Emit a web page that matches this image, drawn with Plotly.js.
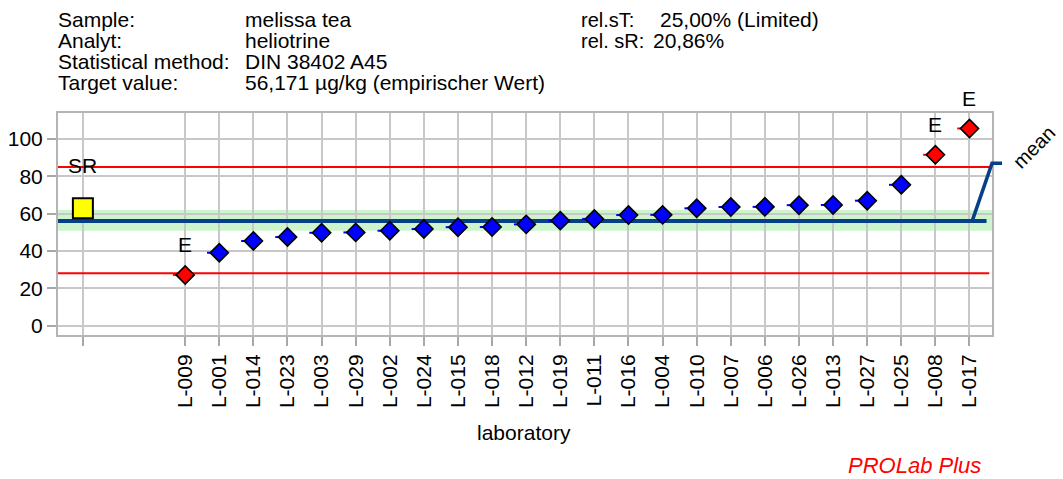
<!DOCTYPE html>
<html><head><meta charset="utf-8">
<script src="https://cdn.plot.ly/plotly-3.0.1.min.js"></script>
<style>html,body{margin:0;padding:0;background:#fff}#chart{width:1063px;height:479px}</style>
</head><body><div id="chart"></div>
<script>
// ---- data ----
const labs = ['L-009','L-001','L-014','L-023','L-003','L-029','L-002','L-024','L-015','L-018','L-012','L-019',
              'L-011','L-016','L-004','L-010','L-007','L-006','L-026','L-013','L-027','L-025','L-008','L-017'];
const values = [27.2, 39.1, 45.4, 47.5, 49.8, 50.0, 50.9, 51.8, 52.8, 52.9, 54.3, 56.3,
                57.2, 59.3, 59.4, 62.9, 63.6, 63.7, 64.6, 64.7, 67.0, 75.5, 91.6, 105.7];
const flags = ['E','','','','','','','','','','','',
               '','','','','','','','','','','E','E'];
const srLabel = 'SR';
const srValue = 62.9;
const targetValue = 56.171;
const upperLimit = 85.0;
const lowerLimit = 28.1;
const bandLow = 50.9;
const bandHigh = 62.0;
const meanLabelLevel = 87.0;
const yTicks = [0, 20, 40, 60, 80, 100];
const headerLabels = ['Sample:', 'Analyt:', 'Statistical method:', 'Target value:'];
const headerValues = ['melissa tea', 'heliotrine', 'DIN 38402 A45', '56,171 µg/kg (empirischer Wert)'];
const statLabels = ['rel.sT:', 'rel. sR:'];
const statValues = ['25,00% (Limited)', '20,86%'];

// ---- layout geometry ----
const W = 1063, H = 479, ML = 58, MR = 71, MT = 113, MB = 144;
const PW = W - ML - MR, PH = H - MT - MB;
const xRange = [-0.73, 26.66], yRange = [-5, 114];
const firstLabPos = 3;
const xs = labs.map((_, i) => firstLabPos + i);
const px = p => (p - ML) / PW;
const py = p => (H - MB - p) / PH;
const FONT = 'Liberation Sans, Arial, sans-serif';
const navy = '#063f86';

const normIdx = flags.map((f, i) => f ? -1 : i).filter(i => i >= 0);
const outIdx = flags.map((f, i) => f ? i : -1).filter(i => i >= 0);

function diamondTrace(idx, color) {
  return {
    type: 'scatter', mode: 'markers',
    x: idx.map(i => xs[i]), y: idx.map(i => values[i]),
    marker: {symbol: 'diamond', size: 14, color: color, line: {color: '#000', width: 1.6}},
    error_x: {type: 'constant', symmetric: false, value: 0, valueminus: 0.36, width: 0, thickness: 2, color: color},
    hoverinfo: 'x+y', showlegend: false, cliponaxis: false
  };
}

const traces = [
  {type: 'scatter', mode: 'markers', x: [0], y: [srValue],
   marker: {symbol: 'square', size: 20, color: '#ffff00', line: {color: '#000', width: 2}},
   showlegend: false, cliponaxis: false},
  diamondTrace(normIdx, '#0000ff'),
  diamondTrace(outIdx, '#ff0000')
];

const rowY = [19.8, 40.8, 61.7, 82.5];
const annotations = [];
headerLabels.forEach((t, i) => {
  annotations.push({text: t, x: px(57), y: py(rowY[i]), xref: 'paper', yref: 'paper', xanchor: 'left', yanchor: 'middle', showarrow: false, borderpad: 0, font: {size: 21, color: '#000'}});
  annotations.push({text: headerValues[i], x: px(244), y: py(rowY[i]), xref: 'paper', yref: 'paper', xanchor: 'left', yanchor: 'middle', showarrow: false, borderpad: 0, font: {size: 21, color: '#000'}});
});
statLabels.forEach((t, i) => {
  annotations.push({text: t, x: px(580), y: py(rowY[i]), xref: 'paper', yref: 'paper', xanchor: 'left', yanchor: 'middle', showarrow: false, borderpad: 0, font: {size: 20, color: '#000'}});
  annotations.push({text: statValues[i], x: px([659, 652][i]), y: py(rowY[i]), xref: 'paper', yref: 'paper', xanchor: 'left', yanchor: 'middle', showarrow: false, borderpad: 0, font: {size: 21, color: '#000'}});
});
outIdx.forEach(i => {
  annotations.push({text: flags[i], x: xs[i], y: values[i], xref: 'x', yref: 'y', yshift: 30, xanchor: 'center', yanchor: 'middle', showarrow: false, font: {size: 21, color: '#000'}});
});
annotations.push({text: srLabel, x: 0, y: srValue, xref: 'x', yref: 'y', yshift: 43, xanchor: 'center', yanchor: 'middle', showarrow: false, font: {size: 21, color: '#000'}});
annotations.push({text: 'laboratory', x: px(524), y: py(432), xref: 'paper', yref: 'paper', xanchor: 'center', yanchor: 'middle', showarrow: false, font: {size: 21, color: '#000'}});
annotations.push({text: '<i>PROLab Plus</i>', x: px(983), y: py(465), xref: 'paper', yref: 'paper', xanchor: 'right', yanchor: 'middle', showarrow: false, font: {size: 22, color: '#ff0000'}});
annotations.push({text: 'mean', x: px(1034), y: py(147), xref: 'paper', yref: 'paper', xanchor: 'center', yanchor: 'middle', textangle: -45, showarrow: false, borderpad: 0, font: {size: 20, color: '#000'}});

const yToPaper = v => (v - yRange[0]) / (yRange[1] - yRange[0]);
const xToPaper = v => (v - xRange[0]) / (xRange[1] - xRange[0]);
const lastPos = xs[xs.length - 1];
const leaderPath = 'M ' + xToPaper(lastPos + 0.08) + ',' + yToPaper(targetValue) +
                   ' L 1,' + yToPaper(meanLabelLevel) +
                   ' L ' + (1 + 10 / PW) + ',' + yToPaper(meanLabelLevel);

const shapes = [
  {type: 'rect', xref: 'x', yref: 'y', x0: xRange[0], x1: xRange[1], y0: bandLow, y1: bandHigh, fillcolor: '#cdf4cd', line: {width: 0}, layer: 'below'},
  {type: 'line', xref: 'x', yref: 'y', x0: xRange[0], x1: xRange[1] - 0.08, y0: upperLimit, y1: upperLimit, line: {color: '#ff0000', width: 2}, layer: 'between'},
  {type: 'line', xref: 'x', yref: 'y', x0: xRange[0], x1: xRange[1] - 0.08, y0: lowerLimit, y1: lowerLimit, line: {color: '#ff0000', width: 2}, layer: 'between'},
  {type: 'line', xref: 'x', yref: 'y', x0: xRange[0], x1: xRange[1] - 0.16, y0: targetValue, y1: targetValue, line: {color: navy, width: 4}, layer: 'between'},
  {type: 'path', xref: 'paper', yref: 'paper', path: leaderPath, line: {color: navy, width: 3.5}, layer: 'above'}
];

const layout = {
  width: W, height: H,
  margin: {l: ML, r: MR, t: MT, b: MB, pad: 0},
  paper_bgcolor: '#fff', plot_bgcolor: '#fff',
  font: {family: FONT, size: 21, color: '#000'},
  showlegend: false,
  xaxis: {
    range: xRange, type: 'linear', fixedrange: true,
    tickmode: 'array', tickvals: [0].concat(xs), ticktext: [''].concat(labs),
    tickangle: -90, tickfont: {size: 21, color: '#000'},
    ticks: 'outside', ticklen: 9, tickwidth: 2, tickcolor: '#a8a8a8',
    showgrid: true, gridcolor: '#c8c8c8', gridwidth: 2,
    showline: true, linecolor: '#b4b4b4', linewidth: 2, mirror: true,
    zeroline: false, automargin: false
  },
  yaxis: {
    range: yRange, fixedrange: true,
    tickmode: 'array', tickvals: yTicks, ticktext: yTicks.map(String),
    tickfont: {size: 21, color: '#000'},
    ticks: 'outside', ticklen: 9, tickwidth: 2, tickcolor: '#a8a8a8',
    showgrid: true, gridcolor: '#c8c8c8', gridwidth: 2,
    showline: true, linecolor: '#b4b4b4', linewidth: 2, mirror: true,
    zeroline: false, automargin: false
  },
  shapes: shapes,
  annotations: annotations
};

Plotly.newPlot('chart', traces, layout, {displayModeBar: false, staticPlot: true});
</script>
</body></html>
